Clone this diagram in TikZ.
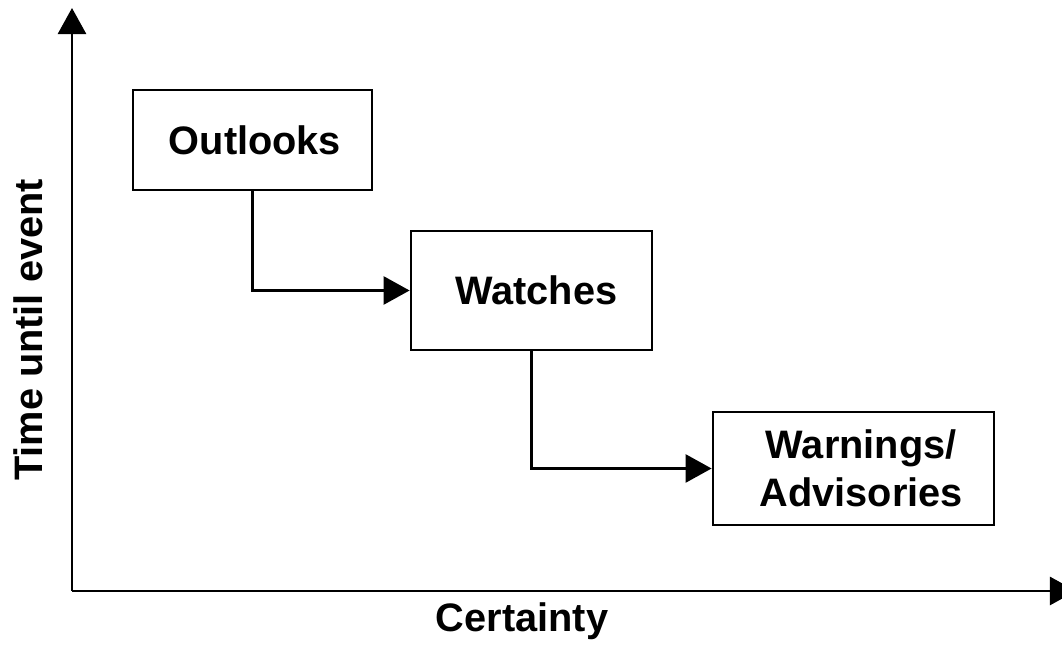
\documentclass[tikz,border=0pt]{standalone}
\usepackage{fontspec}
\setmainfont{Liberation Sans}
\usetikzlibrary{arrows.meta}

\begin{document}
\begin{tikzpicture}[x=0.01cm, y=-0.01cm, line width=0.75pt,
    font=\fontsize{11.3}{13.6}\selectfont\bfseries,
    stage/.style={draw, line width=0.75pt, inner sep=0pt},
    tip/.style={-{Triangle[length=0.26cm, width=0.28cm]}}]
  \useasboundingbox (0,0) rectangle (1062,652);
  \clip (0,0) rectangle (1062,652);

  \node[stage, minimum width=2.39cm, minimum height=1.0cm] (outlooks) at (252.5,140) {\hspace{1.4pt}Outlooks};
  \node[stage, minimum width=2.41cm, minimum height=1.19cm] (watches) at (531.5,290.5) {\hspace{2.8pt}Watches};
  \node[stage, minimum width=2.81cm, minimum height=1.13cm, align=center] (warnings) at (853.5,468.5) {\hspace{4.4pt}Warnings/\\\hspace{4.4pt}Advisories};

  \coordinate (origin) at (72,591);
  \coordinate (ytop) at (72,8);
  \coordinate (xend) at (1076,591);

  \foreach \from/\to in {origin/ytop, origin/xend}
    \draw[tip] (\from) -- (\to);
  \draw[tip] (outlooks.south) |- (watches.west);
  \draw[tip] (watches.south) |- (warnings.west);

  \node[anchor=base] (certainty) at (522,632) {Certainty};
  \node[anchor=base, rotate=90] (time) at (42,330) {Time until event};
\end{tikzpicture}
\end{document}
